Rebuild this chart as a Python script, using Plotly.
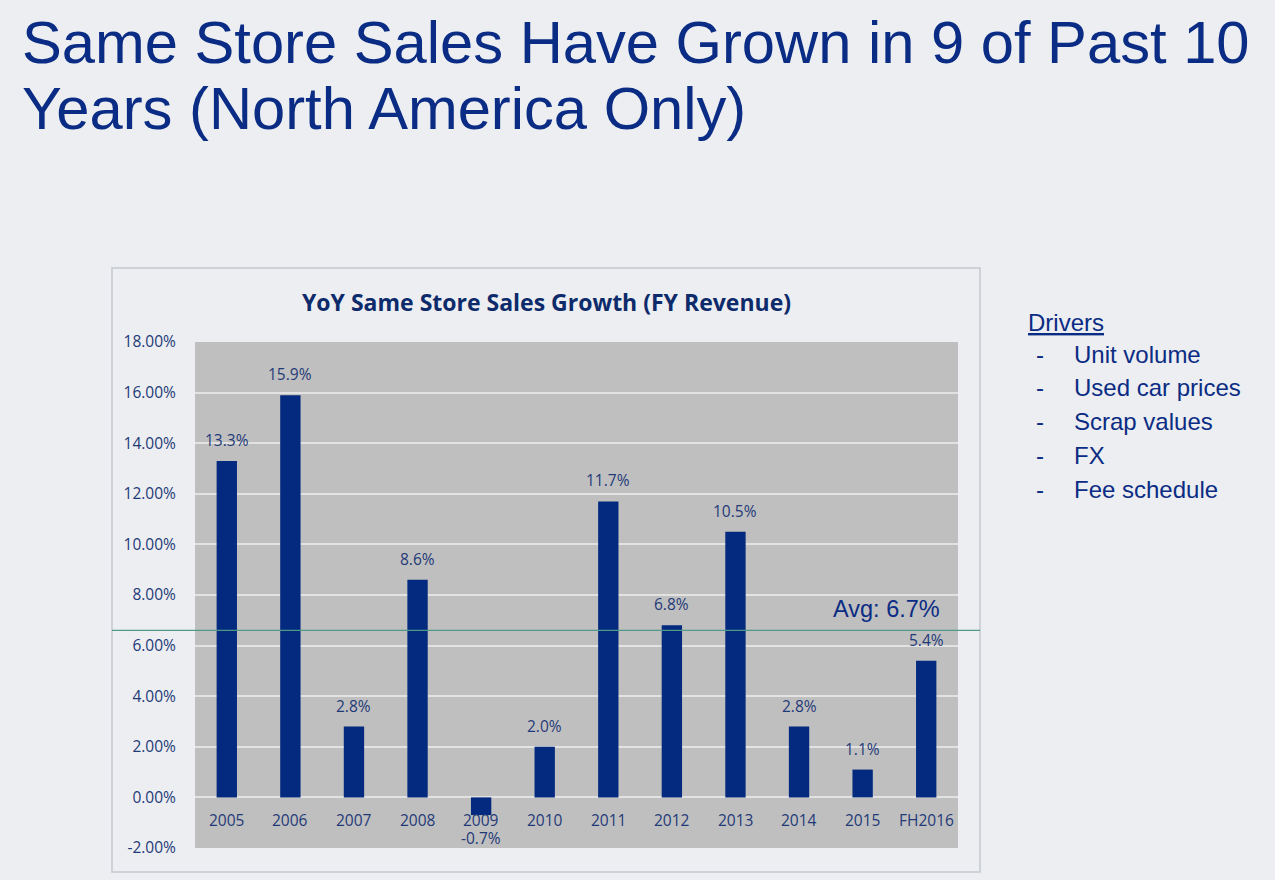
import plotly.graph_objects as go

categories = ["2005", "2006", "2007", "2008", "2009", "2010", "2011", "2012", "2013", "2014", "2015", "FH2016"]
growth = [0.133, 0.159, 0.028, 0.086, -0.007, 0.020, 0.117, 0.068, 0.105, 0.028, 0.011, 0.054]
value_labels = ["13.3%", "15.9%", "2.8%", "8.6%", "-0.7%", "2.0%", "11.7%", "6.8%", "10.5%", "2.8%", "1.1%", "5.4%"]
y_tick_values = [-0.02, 0.0, 0.02, 0.04, 0.06, 0.08, 0.10, 0.12, 0.14, 0.16, 0.18]
y_tick_labels = ["-2.00%", "0.00%", "2.00%", "4.00%", "6.00%", "8.00%", "10.00%",
                 "12.00%", "14.00%", "16.00%", "18.00%"]
average = 0.066
average_label = "Avg: 6.7%"
drivers = ["Unit volume", "Used car prices", "Scrap values", "FX", "Fee schedule"]

W, H = 1275, 880
PL, PR, PT, PB = 195, 958, 342, 848


def px(x):
    return (x - PL) / (PR - PL)


def py(y):
    return (PB - y) / (PB - PT)


NAVY = "#0b2c84"
BAR = "#032a7e"
LBL = "#1f3a78"
BG = "#eceef1"

fig = go.Figure()
fig.add_trace(go.Bar(
    x=categories, y=growth, marker=dict(color=BAR, line=dict(width=0)),
    width=0.32, hoverinfo="skip",
))

LF = dict(family="Open Sans", size=15.5, color=LBL)
ann = []
for i, (c, v, t) in enumerate(zip(categories, growth, value_labels)):
    if v >= 0:
        ann.append(dict(x=i, y=v, xref="x", yref="y", text=t, showarrow=False,
                        yanchor="bottom", yshift=8, font=LF))
    else:
        ann.append(dict(x=i, y=v, xref="x", yref="y", text=t, showarrow=False,
                        yanchor="middle", yshift=-23, font=LF))
    ann.append(dict(x=i, y=0, xref="x", yref="y", text=c, showarrow=False,
                    yanchor="middle", yshift=-23, font=LF))

ann.append(dict(x=px(886), y=py(609), xref="paper", yref="paper", text=average_label,
                showarrow=False, xanchor="center", yanchor="middle",
                font=dict(family="Liberation Sans", size=23.5, color=NAVY)))

ann.append(dict(x=px(546), y=py(302), xref="paper", yref="paper",
                text="<b>YoY Same Store Sales Growth (FY Revenue)</b>", showarrow=False,
                xanchor="center", yanchor="middle",
                font=dict(family="Open Sans", size=23, color="#0d2a6b")))

TF = dict(family="Liberation Sans", size=59.7, color=NAVY)
ann.append(dict(x=px(20), y=py(42), xref="paper", yref="paper",
                text="Same Store Sales Have Grown in 9 of Past 10", showarrow=False,
                xanchor="left", yanchor="middle", font=TF))
ann.append(dict(x=px(20), y=py(108), xref="paper", yref="paper",
                text="Years (North America Only)", showarrow=False,
                xanchor="left", yanchor="middle", font=TF))

DF = dict(family="Liberation Sans", size=24, color=NAVY)
ann.append(dict(x=px(1026), y=py(322), xref="paper", yref="paper",
                text="<u>Drivers</u>", showarrow=False, xanchor="left", yanchor="middle",
                font=DF))
for i, d in enumerate(drivers):
    yy = 354 + i * 33.8
    ann.append(dict(x=px(1040), y=py(yy), xref="paper", yref="paper",
                    text="-", showarrow=False, xanchor="center", yanchor="middle", font=DF))
    ann.append(dict(x=px(1072), y=py(yy), xref="paper", yref="paper",
                    text=d, showarrow=False, xanchor="left", yanchor="middle", font=DF))

shapes = [
    dict(type="rect", xref="paper", yref="paper", x0=px(112), x1=px(980),
         y0=py(872), y1=py(268), line=dict(color="#c3c8cf", width=1.5),
         layer="below"),
    dict(type="line", xref="paper", yref="y", x0=px(112), x1=px(980),
         y0=average, y1=average, line=dict(color="#4f9a86", width=1.2), layer="above"),
]

fig.update_layout(
    width=W, height=H,
    margin=dict(l=PL, r=W - PR, t=PT, b=H - PB),
    paper_bgcolor=BG, plot_bgcolor="#bfbfbf",
    showlegend=False, bargap=0.68,
    annotations=ann, shapes=shapes,
    xaxis=dict(type="category", range=[-0.5, len(categories) - 0.5],
               showticklabels=False, showgrid=False, zeroline=False,
               ticks="", fixedrange=True),
    yaxis=dict(range=[-0.02, 0.18], tickmode="array", tickvals=y_tick_values,
               ticktext=y_tick_labels,
               showgrid=True, gridcolor="#e2e2e2", gridwidth=1.5,
               zeroline=True, zerolinecolor="#e2e2e2", zerolinewidth=1.5,
               tickfont=LF, ticks="outside", ticklen=15, tickcolor="rgba(0,0,0,0)",
               fixedrange=True),
)

fig.write_html(
    "out.html",
    config={"displayModeBar": False},
    post_script="document.body.style.margin='0';document.body.style.background='" + BG + "';",
)
